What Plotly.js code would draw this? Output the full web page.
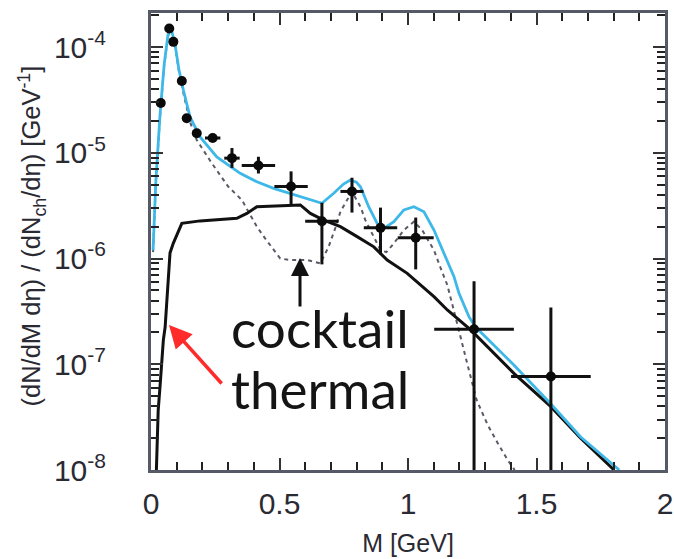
<!DOCTYPE html>
<html>
<head>
<meta charset="utf-8">
<script src="https://cdn.plot.ly/plotly-3.0.1.min.js"></script>
<style>html,body{margin:0;padding:0;background:#fff;}#chart{width:674px;height:559px;}</style>
</head>
<body>
<div id="chart"></div>
<script>
// Data points (M in GeV, yield in GeV^-1)
const dataM = [0.038, 0.071, 0.087, 0.12, 0.139, 0.178, 0.24, 0.315, 0.418, 0.545, 0.665, 0.782, 0.893, 1.03, 1.257, 1.556];
const dataY = [2.96e-5, 1.50e-4, 1.12e-4, 4.78e-5, 2.12e-5, 1.53e-5, 1.38e-5, 8.9e-6, 7.57e-6, 4.8e-6, 2.25e-6, 4.31e-6, 1.95e-6, 1.57e-6, 2.14e-7, 7.66e-8];
const dataXErr = [0, 0, 0, 0, 0, 0, 0.03, 0.03, 0.065, 0.065, 0.065, 0.045, 0.065, 0.07, 0.155, 0.155];
const dataYErrPlus = [0, 0, 0, 0, 0, 0, 0, 2.2e-6, 1.6e-6, 1.87e-6, 1.12e-6, 1.5e-6, 1.08e-6, 0.87e-6, 3.97e-7, 2.68e-7];
const dataYErrMinus = [0, 0, 0, 0, 0, 0, 0, 1.7e-6, 1.2e-6, 1.56e-6, 1.37e-6, 1.59e-6, 0.86e-6, 0.78e-6, 2.137e-7, 7.65e-8];

// Total (cocktail + thermal), cyan curve
const totalM = [0.008, 0.019, 0.035, 0.051, 0.066, 0.078, 0.094, 0.109, 0.126, 0.152, 0.191, 0.256, 0.347, 0.412, 0.477, 0.542, 0.607, 0.665, 0.711, 0.749, 0.776, 0.799, 0.815, 0.847, 0.880, 0.906, 0.945, 0.984, 1.023, 1.062, 1.101, 1.140, 1.179, 1.198, 1.237, 1.263, 1.412, 1.556, 1.672, 1.822];
const totalY = [1.20e-6, 5.52e-6, 2.27e-5, 6.76e-5, 1.30e-4, 1.51e-4, 1.04e-4, 6.07e-5, 3.92e-5, 2.18e-5, 1.41e-5, 9.12e-6, 6.40e-6, 5.32e-6, 4.61e-6, 4.14e-6, 3.71e-6, 3.33e-6, 4.14e-6, 5.06e-6, 5.52e-6, 5.28e-6, 4.77e-6, 3.09e-6, 2.15e-6, 1.93e-6, 2.23e-6, 2.88e-6, 3.09e-6, 2.77e-6, 1.86e-6, 1.12e-6, 6.73e-7, 4.72e-7, 2.82e-7, 2.25e-7, 9.84e-8, 4.21e-8, 2.05e-8, 1.0e-8];

// Thermal, black curve
const thermalM = [0.021, 0.028, 0.035, 0.048, 0.055, 0.067, 0.074, 0.087, 0.120, 0.191, 0.334, 0.373, 0.412, 0.581, 0.620, 0.672, 0.737, 0.802, 0.867, 0.919, 0.997, 1.101, 1.153, 1.244, 1.412, 1.556, 1.672, 1.802];
const thermalY = [1.0e-8, 3.69e-8, 6.10e-8, 1.69e-7, 2.25e-7, 6.26e-7, 1.13e-6, 1.40e-6, 2.15e-6, 2.27e-6, 2.40e-6, 2.67e-6, 3.09e-6, 3.21e-6, 2.67e-6, 2.31e-6, 2.00e-6, 1.61e-6, 1.29e-6, 9.68e-7, 7.24e-7, 4.36e-7, 3.26e-7, 2.11e-7, 8.20e-8, 3.97e-8, 2.00e-8, 1.0e-8];

// Cocktail, dashed curve
const cocktailM = [0.008, 0.019, 0.035, 0.051, 0.066, 0.078, 0.094, 0.109, 0.126, 0.152, 0.178, 0.237, 0.301, 0.354, 0.379, 0.412, 0.444, 0.477, 0.503, 0.542, 0.607, 0.659, 0.691, 0.717, 0.737, 0.763, 0.782, 0.815, 0.834, 0.860, 0.893, 0.916, 0.945, 0.984, 1.023, 1.055, 1.101, 1.127, 1.153, 1.173, 1.201, 1.232, 1.267, 1.310, 1.349, 1.388, 1.415];
const cocktailY = [1.15e-6, 5.28e-6, 2.18e-5, 6.61e-5, 1.27e-4, 1.48e-4, 1.02e-4, 5.81e-5, 3.67e-5, 1.95e-5, 1.32e-5, 7.94e-6, 4.77e-6, 3.57e-6, 2.77e-6, 2.00e-6, 1.55e-6, 1.20e-6, 1.00e-6, 9.68e-7, 9.68e-7, 9.01e-7, 1.29e-6, 1.94e-6, 2.77e-6, 3.57e-6, 4.28e-6, 3.09e-6, 2.31e-6, 1.73e-6, 1.20e-6, 1.15e-6, 1.39e-6, 1.86e-6, 2.23e-6, 1.86e-6, 1.20e-6, 8.13e-7, 5.61e-7, 3.63e-7, 1.89e-7, 9.84e-8, 4.59e-8, 2.67e-8, 1.80e-8, 1.24e-8, 1.0e-8];

const yTickVals = [1e-8, 1e-7, 1e-6, 1e-5, 1e-4];
const yTickText = ['10<sup>-8</sup>', '10<sup>-7</sup>', '10<sup>-6</sup>', '10<sup>-5</sup>', '10<sup>-4</sup>'];
const yMinorVals = [2e-8, 3e-8, 4e-8, 5e-8, 6e-8, 7e-8, 8e-8, 9e-8,
  2e-7, 3e-7, 4e-7, 5e-7, 6e-7, 7e-7, 8e-7, 9e-7,
  2e-6, 3e-6, 4e-6, 5e-6, 6e-6, 7e-6, 8e-6, 9e-6,
  2e-5, 3e-5, 4e-5, 5e-5, 6e-5, 7e-5, 8e-5, 9e-5, 2e-4];

const traces = [
  {x: cocktailM, y: cocktailY, type: 'scatter', mode: 'lines', name: 'cocktail',
   line: {color: '#5a5a66', width: 2, dash: '4px,4px'}, hoverinfo: 'skip'},
  {x: thermalM, y: thermalY, type: 'scatter', mode: 'lines', name: 'thermal',
   line: {color: '#111111', width: 3}, hoverinfo: 'skip'},
  {x: totalM, y: totalY, type: 'scatter', mode: 'lines', name: 'total',
   line: {color: '#3db8e8', width: 2.8}, hoverinfo: 'skip'},
  {x: dataM, y: dataY, xaxis: 'x2', yaxis: 'y2', type: 'scatter', mode: 'markers', name: 'data',
   marker: {color: '#0a0a0a', size: 10},
   error_x: {type: 'data', array: dataXErr, color: '#111', thickness: 3, width: 0},
   error_y: {type: 'data', array: dataYErrPlus, arrayminus: dataYErrMinus, symmetric: false, color: '#111', thickness: 3, width: 0}}
];

const tickFont = {family: 'Liberation Sans, Arial, sans-serif', size: 30, color: '#2a2a33'};

const layout = {
  width: 674, height: 559,
  margin: {l: 151, r: 9, t: 13, b: 89},
  paper_bgcolor: '#ffffff', plot_bgcolor: '#ffffff',
  showlegend: false,
  xaxis: {
    range: [0, 2], tickmode: 'linear', tick0: 0, dtick: 0.5,
    ticks: 'inside', ticklen: 12, tickwidth: 2, tickcolor: '#333',
    minor: {dtick: 0.1, ticks: 'inside', ticklen: 8, tickwidth: 2, tickcolor: '#222'},
    showline: true, linecolor: '#555a66', linewidth: 3, mirror: 'allticks',
    showgrid: false, zeroline: false,
    tickfont: tickFont, ticklabelstandoff: 5,
    title: {text: 'M [GeV]', font: {family: 'Liberation Sans, Arial, sans-serif', size: 25, color: '#2a2a33'}, standoff: 16}
  },
  xaxis2: {
    overlaying: 'x', anchor: 'y2', side: 'bottom', range: [0, 2],
    showticklabels: false, ticks: '', showline: false, showgrid: false, zeroline: false
  },
  yaxis: {
    type: 'log', range: [-8, -3.678], tickmode: 'array', tickvals: yTickVals, ticktext: yTickText,
    ticks: 'inside', ticklen: 12, tickwidth: 2, tickcolor: '#333',
    showline: true, linecolor: '#555a66', linewidth: 3, mirror: 'allticks',
    showgrid: false, zeroline: false,
    tickfont: tickFont, ticklabelstandoff: 36
  },
  yaxis2: {
    overlaying: 'y', anchor: 'x2', side: 'left', type: 'log', range: [-8, -3.678],
    tickmode: 'array', tickvals: yMinorVals, showticklabels: false,
    ticks: 'inside', ticklen: 8, tickwidth: 2, tickcolor: '#222',
    showline: false, mirror: 'ticks', showgrid: false, zeroline: false
  },
  annotations: [
    {xref: 'paper', yref: 'paper', x: -0.2315, y: 0.511, xanchor: 'center', yanchor: 'middle', textangle: -90,
     text: '(dN/dM dη) / (dN<sub>ch</sub>/dη) [GeV<sup>-1</sup>]', showarrow: false,
     font: {family: 'Liberation Sans, Arial, sans-serif', size: 25.5, color: '#2a2a33'}},
    {xref: 'paper', yref: 'paper', x: 0.1518, y: 0.3129, xanchor: 'left', yanchor: 'middle',
     text: 'cocktail', showarrow: false, font: {family: 'Lato, sans-serif', size: 53, color: '#151515'}},
    {xref: 'paper', yref: 'paper', x: 0.1518, y: 0.1794, xanchor: 'left', yanchor: 'middle',
     text: 'thermal', showarrow: false, font: {family: 'Lato, sans-serif', size: 53, color: '#151515'}},
    {xref: 'paper', yref: 'paper', x: 0.2899, y: 0.4639, text: '', showarrow: true,
     ax: 0, ay: 50, arrowhead: 2, arrowsize: 1.2, arrowwidth: 3, arrowcolor: '#111'},
    {xref: 'paper', yref: 'paper', x: 0.035, y: 0.3173, text: '', showarrow: true,
     ax: 54, ay: 60, arrowhead: 2, arrowsize: 1.3, arrowwidth: 3.5, arrowcolor: '#ff2a2a'}
  ]
};

Plotly.newPlot('chart', traces, layout, {staticPlot: true, displayModeBar: false});
</script>
</body>
</html>
